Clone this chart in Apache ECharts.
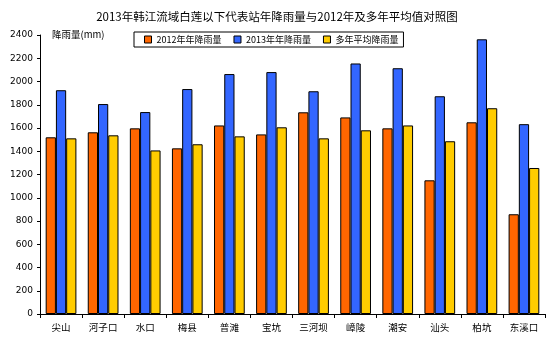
<!DOCTYPE html>
<html><head><meta charset="utf-8">
<script src="https://cdn.jsdelivr.net/npm/echarts@6/dist/echarts.min.js"></script>
<style>html,body{margin:0;padding:0;background:#fff}#c{width:558px;height:341px}</style>
</head><body><div id="c"></div>
<script>
var categories = ['尖山','河子口','水口','梅县','普滩','宝坑','三河坝','嶂陵','潮安','汕头','柏坑','东溪口'];
var rain2012 = [1520,1563,1597,1425,1622,1545,1735,1691,1597,1150,1649,858];
var rain2013 = [1925,1806,1737,1935,2064,2081,1916,2155,2114,1873,2363,1633];
var rainAvg = [1511,1537,1407,1460,1528,1606,1511,1580,1622,1486,1770,1256];
var seriesNames = ['2012年年降雨量','2013年年降雨量','多年平均降雨量'];
var colors = ['#FF6600','#3366FF','#FFCC00'];
var font = '"Noto Sans CJK SC", "DejaVu Sans", sans-serif';
var chart = echarts.init(document.getElementById('c'));
function mk(i, data){
  return {name: seriesNames[i], type:'bar', data:data, barGap:'0%', barCategoryGap:'27%',
    itemStyle:{color:colors[i], borderColor:'#000', borderWidth:1}};
}
chart.setOption({
  animation:false,
  textStyle:{fontFamily:font},
  title:{text:'2013年韩江流域白莲以下代表站年降雨量与2012年及多年平均值对照图', left:272, textAlign:'center', top:6,
    textStyle:{fontSize:11.5, fontWeight:'normal', color:'#000', fontFamily:font}},
  legend:{left:134, top:32, itemWidth:7, itemHeight:7, itemGap:12,
    borderColor:'#000', borderWidth:1, padding:[3,5,3,10],
    icon:'rect', textStyle:{fontSize:9, color:'#000', fontFamily:font},
    data:seriesNames.map(function(n,i){return {name:n, itemStyle:{borderColor:'#000',borderWidth:1}};})},
  grid:{left:40, right:13, top:35, bottom:27, containLabel:false},
  xAxis:{type:'category', data:categories,
    axisLine:{lineStyle:{color:'#000', width:1}},
    axisTick:{show:true, inside:false, length:4, lineStyle:{color:'#000'}},
    axisLabel:{fontSize:9.5, color:'#000', margin:9, fontFamily:font}},
  yAxis:{type:'value', min:0, max:2400, interval:200,
    name:'降雨量(mm)', nameLocation:'end', nameGap:1,
    nameTextStyle:{fontSize:9.5, color:'#000', align:'left', padding:[0,0,0,12], verticalAlign:'middle', fontFamily:font},
    axisLine:{show:true, lineStyle:{color:'#000', width:1}},
    axisTick:{show:true, length:3, lineStyle:{color:'#000'}},
    splitLine:{show:false},
    axisLabel:{fontSize:9, color:'#000', margin:7, fontFamily:'"DejaVu Sans", sans-serif',
      formatter:function(v){return String(v);}}},
  series:[mk(0,rain2012), mk(1,rain2013), mk(2,rainAvg)]
});
</script></body></html>
